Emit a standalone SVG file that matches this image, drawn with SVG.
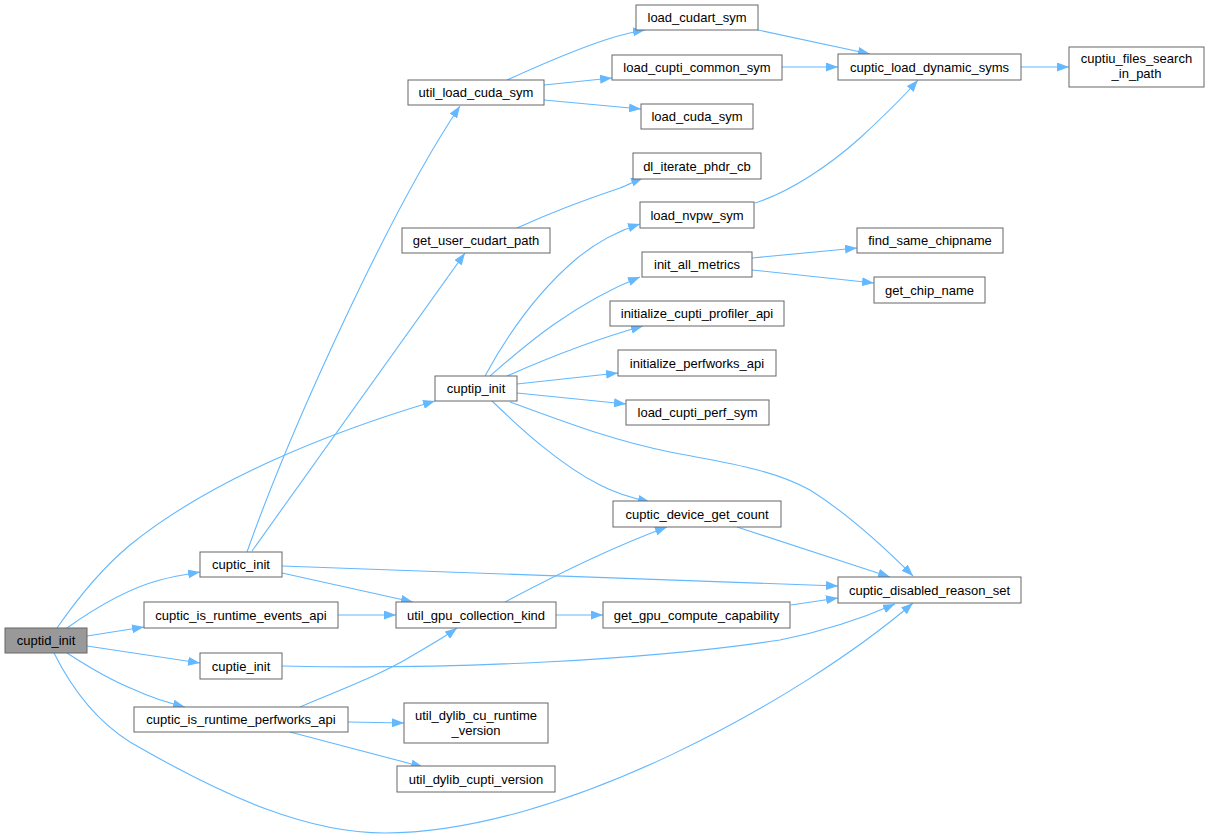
<svg xmlns="http://www.w3.org/2000/svg" width="1209" height="840" viewBox="0 0 1209 840">
<style>
.n rect{fill:#ffffff;stroke:#666666;stroke-width:1}
.n text{font-family:"Liberation Sans",Arial,sans-serif;font-size:13px;fill:#000000;text-anchor:middle}
#cuptid_init rect{fill:#999999}
.e path{fill:none;stroke:#63b8ff;stroke-width:1.1;marker-end:url(#ah)}
</style>
<defs>
<marker id="ah" viewBox="0 0 12 9" refX="12" refY="4.5" markerWidth="12" markerHeight="9" markerUnits="userSpaceOnUse" orient="auto">
<path d="M0,0 L12,4.5 L0,9 z" fill="#63b8ff"/>
</marker>
</defs>
<rect width="1209" height="840" fill="#ffffff"/>
<g id="edges" class="e">
<path d="M67,628 C95,608 130,588 160,580 C175,576 188,574 200,572"/>
<path d="M87,636 L144,627"/>
<path d="M87,646 L200,663"/>
<path d="M67,653 C90,668 115,682 135,690 C150,697 165,702 185,707"/>
<path d="M57,628 C75,602 100,570 130,545 C210,480 330,432 435,401"/>
<path d="M54,653 C70,685 95,720 130,742 C230,800 310,833 385,833 C560,833 800,700 913,603"/>
<path d="M247,552 C290,430 390,210 460,106"/>
<path d="M252,551 L465,253"/>
<path d="M282,573 L413,602"/>
<path d="M282,566 L838,586"/>
<path d="M338,615 L396,615"/>
<path d="M282,666 C450,670 650,660 780,640 C830,630 870,615 895,604"/>
<path d="M300,707 C340,690 380,675 410,657 C430,645 445,637 457,628"/>
<path d="M348,722 L404,723"/>
<path d="M290,732 L423,767"/>
<path d="M507,80 C540,65 575,50 605,40 C620,35 632,32 645,30"/>
<path d="M544,85 L612,78"/>
<path d="M544,100 L641,109"/>
<path d="M517,228 C550,213 590,198 620,188 C628,185 635,181 643,178"/>
<path d="M485,376 C510,330 540,290 575,260 C595,243 615,232 640,224"/>
<path d="M490,376 C520,350 570,305 640,277"/>
<path d="M507,376 C550,357 600,338 643,326"/>
<path d="M517,384 L618,373"/>
<path d="M517,393 L626,404"/>
<path d="M492,401 C520,428 560,465 600,485 C615,493 632,498 650,502"/>
<path d="M510,402 C560,420 610,440 670,452 C720,462 770,468 810,490 C850,515 885,548 913,576"/>
<path d="M737,527 L890,577"/>
<path d="M505,602 C550,578 610,548 667,527"/>
<path d="M556,615 L603,615"/>
<path d="M791,605 L838,598"/>
<path d="M758,30 L870,54"/>
<path d="M782,67 L838,67"/>
<path d="M755,203 C790,192 830,165 860,138 C885,115 905,95 918,80"/>
<path d="M1021,67 L1069,67"/>
<path d="M752,258 L857,248"/>
<path d="M752,270 L874,283"/>
</g>
<g id="cuptid_init" class="n"><rect x="5" y="628" width="82" height="25"/><text x="46" y="645">cuptid_init</text></g>
<g id="cuptic_init" class="n"><rect x="200" y="552" width="82" height="25"/><text x="241" y="569">cuptic_init</text></g>
<g id="cuptic_is_runtime_events_api" class="n"><rect x="144" y="602" width="194" height="26"/><text x="241" y="619.5">cuptic_is_runtime_events_api</text></g>
<g id="cuptie_init" class="n"><rect x="200" y="653" width="82" height="26"/><text x="241" y="670.5">cuptie_init</text></g>
<g id="cuptic_is_runtime_perfworks_api" class="n"><rect x="134" y="707" width="214" height="25"/><text x="241" y="724">cuptic_is_runtime_perfworks_api</text></g>
<g id="cuptip_init" class="n"><rect x="435" y="376" width="82" height="25"/><text x="476" y="393">cuptip_init</text></g>
<g id="util_load_cuda_sym" class="n"><rect x="408" y="80" width="136" height="25"/><text x="476" y="97">util_load_cuda_sym</text></g>
<g id="get_user_cudart_path" class="n"><rect x="402" y="228" width="148" height="25"/><text x="476" y="245">get_user_cudart_path</text></g>
<g id="util_gpu_collection_kind" class="n"><rect x="396" y="602" width="160" height="26"/><text x="476" y="619.5">util_gpu_collection_kind</text></g>
<g id="util_dylib_cu_runtime_version" class="n"><rect x="404" y="703" width="144" height="40"/><text x="476" y="719.5">util_dylib_cu_runtime</text><text x="476" y="734.5">_version</text></g>
<g id="util_dylib_cupti_version" class="n"><rect x="397" y="766" width="158" height="26"/><text x="476" y="783.5">util_dylib_cupti_version</text></g>
<g id="load_cudart_sym" class="n"><rect x="636" y="5" width="122" height="25"/><text x="697" y="22">load_cudart_sym</text></g>
<g id="load_cupti_common_sym" class="n"><rect x="612" y="55" width="170" height="25"/><text x="697" y="72">load_cupti_common_sym</text></g>
<g id="load_cuda_sym" class="n"><rect x="641" y="104" width="112" height="25"/><text x="697" y="121">load_cuda_sym</text></g>
<g id="dl_iterate_phdr_cb" class="n"><rect x="633" y="153" width="128" height="26"/><text x="697" y="170.5">dl_iterate_phdr_cb</text></g>
<g id="load_nvpw_sym" class="n"><rect x="640" y="202" width="114" height="26"/><text x="697" y="219.5">load_nvpw_sym</text></g>
<g id="init_all_metrics" class="n"><rect x="642" y="252" width="110" height="25"/><text x="697" y="269">init_all_metrics</text></g>
<g id="initialize_cupti_profiler_api" class="n"><rect x="610" y="301" width="174" height="25"/><text x="697" y="318">initialize_cupti_profiler_api</text></g>
<g id="initialize_perfworks_api" class="n"><rect x="618" y="350" width="158" height="26"/><text x="697" y="367.5">initialize_perfworks_api</text></g>
<g id="load_cupti_perf_sym" class="n"><rect x="626" y="400" width="143" height="25"/><text x="697.5" y="417">load_cupti_perf_sym</text></g>
<g id="cuptic_device_get_count" class="n"><rect x="613" y="501" width="168" height="26"/><text x="697" y="518.5">cuptic_device_get_count</text></g>
<g id="get_gpu_compute_capability" class="n"><rect x="603" y="602" width="187" height="26"/><text x="696.5" y="619.5">get_gpu_compute_capability</text></g>
<g id="cuptic_disabled_reason_set" class="n"><rect x="838" y="577" width="183" height="26"/><text x="929.5" y="594.5">cuptic_disabled_reason_set</text></g>
<g id="cuptic_load_dynamic_syms" class="n"><rect x="838" y="54" width="183" height="26"/><text x="929.5" y="71.5">cuptic_load_dynamic_syms</text></g>
<g id="cuptiu_files_search_in_path" class="n"><rect x="1069" y="47" width="135" height="40"/><text x="1136.5" y="63">cuptiu_files_search</text><text x="1136.5" y="78">_in_path</text></g>
<g id="find_same_chipname" class="n"><rect x="857" y="228" width="146" height="25"/><text x="930" y="245">find_same_chipname</text></g>
<g id="get_chip_name" class="n"><rect x="874" y="277" width="111" height="26"/><text x="929.5" y="294.5">get_chip_name</text></g>
</svg>
